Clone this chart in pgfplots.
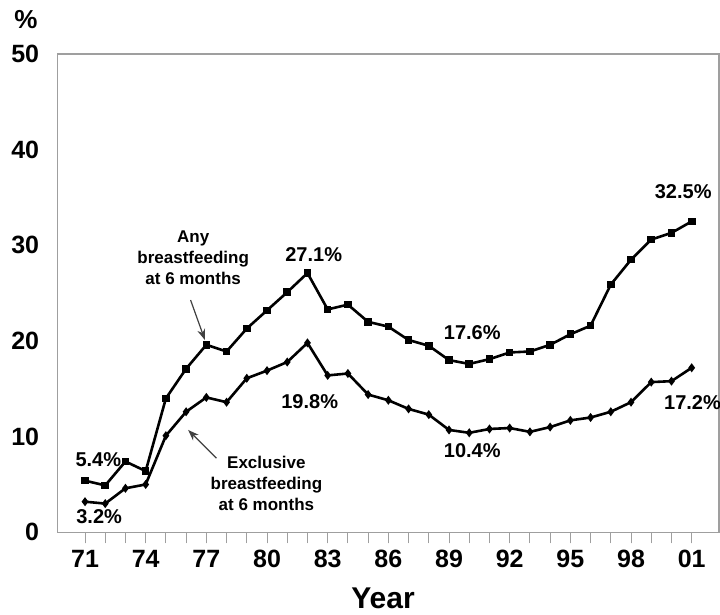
\documentclass[border=0pt]{standalone}
\usepackage{fontspec}
\setmainfont{Liberation Sans}
\usepackage{pgfplots}
\pgfplotsset{compat=1.18}
\usetikzlibrary{arrows.meta}

\pgfplotstableread{
year any
71 5.4
72 4.9
73 7.4
74 6.4
75 14.0
76 17.1
77 19.6
78 18.9
79 21.3
80 23.2
81 25.1
82 27.1
83 23.3
84 23.8
85 22.0
86 21.5
87 20.1
88 19.5
89 18.0
90 17.6
91 18.1
92 18.8
93 18.9
94 19.6
95 20.7
96 21.6
97 25.9
98 28.5
99 30.6
100 31.3
101 32.5
}\anydata

\pgfplotstableread{
year excl
71 3.2
72 3.0
73 4.6
74 5.0
75 10.1
76 12.6
77 14.1
78 13.6
79 16.1
80 16.9
81 17.8
82 19.8
83 16.4
84 16.6
85 14.4
86 13.8
87 12.9
88 12.3
89 10.7
90 10.4
91 10.8
92 10.9
93 10.5
94 11.0
95 11.7
96 12.0
97 12.6
98 13.6
99 15.7
100 15.8
101 17.2
}\excldata

\begin{document}
\begin{tikzpicture}
\begin{axis}[
  at={(0,0)}, anchor=south west,
  scale only axis, width=661.7pt, height=478.3pt,
  xmin=69.63, xmax=102.35, ymin=0, ymax=50,
  axis line style={draw=gray!75, line width=1.2pt},
  xtick={71,74,...,101},
  xticklabels={71,74,77,80,83,86,89,92,95,98,01},
  minor xtick={71,...,101},
  ytick={0,10,...,50},
  xtick pos=bottom, ytick pos=left,
  tick align=outside,
  major tick length=11pt, minor tick length=11pt,
  x tick style={draw=gray!75, line width=1pt},
  minor x tick style={draw=gray!75, line width=1pt},
  y tick style={draw=none},
  /pgf/number format/assume math mode=true,
  ticklabel style={font=\fontsize{25}{29}\selectfont\bfseries},
  xticklabel style={inner sep=0pt, anchor=north, yshift=-7pt},
  yticklabel style={inner sep=0pt, anchor=east, xshift=-7pt},
  clip=false,
]
\addplot[black, line width=2.6pt, mark=square*, mark size=2.5pt, mark options={solid}] table[x=year, y=any] {\anydata};
\addplot[black, line width=2.6pt, mark=diamond*, mark size=2.4pt, mark options={solid}] table[x=year, y=excl] {\excldata};

\tikzset{vl/.style={font=\fontsize{20}{23}\selectfont\bfseries, inner sep=0pt}}
\node[vl] at (axis cs:71.66,7.63) {5.4\%};
\node[vl] at (axis cs:71.7,1.63) {3.2\%};
\node[vl] at (axis cs:82.31,28.99) {27.1\%};
\node[vl] at (axis cs:82.11,13.65) {19.8\%};
\node[vl] at (axis cs:90.15,20.87) {17.6\%};
\node[vl] at (axis cs:90.15,8.5) {10.4\%};
\node[vl] at (axis cs:100.58,35.6) {32.5\%};
\node[vl] at (axis cs:101.04,13.55) {17.2\%};

\tikzset{al/.style={font=\fontsize{17}{21}\selectfont\bfseries, align=center, inner sep=0pt}}
\node[al] at (axis cs:76.35,28.67) {Any\\breastfeeding\\at 6 months};
\node[al] at (axis cs:79.97,5.12) {Exclusive\\breastfeeding\\at 6 months};
\draw[black!75, line width=1.2pt, -{Stealth[length=11pt,width=8pt]}] (axis cs:76.22,24.28) -- (axis cs:76.93,20.1);
\draw[black!75, line width=1.2pt, -{Stealth[length=11pt,width=8pt]}] (axis cs:77.5,7.74) -- (axis cs:76.1,10.7);
\end{axis}
\node[font=\fontsize{26}{30}\selectfont\bfseries, inner sep=0pt] at (-31.3pt,512.3pt) {\%};
\node[font=\fontsize{30}{34}\selectfont\bfseries, inner sep=0pt] at (325.7pt,-65.7pt) {Year};
\pgfresetboundingbox
\path[use as bounding box] (-57.3pt,-82.7pt) rectangle (662.7pt,532.3pt);
\end{tikzpicture}
\end{document}
